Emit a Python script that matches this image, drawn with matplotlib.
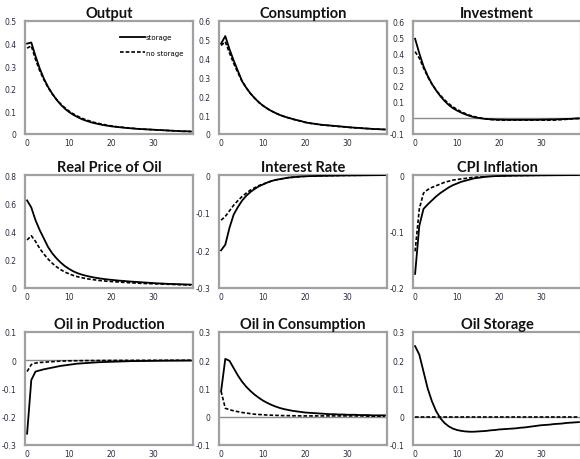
import matplotlib
matplotlib.use('Agg')
import matplotlib.pyplot as plt
from matplotlib.ticker import FuncFormatter, MultipleLocator

# Impulse responses, quarters 0..39
periods = list(range(40))

output_s = [0.400, 0.405, 0.345, 0.290, 0.245, 0.208, 0.178, 0.152, 0.130, 0.112,
            0.097, 0.085, 0.075, 0.066, 0.059, 0.053, 0.048, 0.044, 0.040, 0.037,
            0.034, 0.032, 0.030, 0.028, 0.026, 0.025, 0.023, 0.022, 0.021, 0.020,
            0.019, 0.018, 0.017, 0.016, 0.015, 0.014, 0.013, 0.012, 0.012, 0.011]
output_n = [0.380, 0.390, 0.330, 0.280, 0.240, 0.205, 0.177, 0.153, 0.133, 0.116,
            0.101, 0.089, 0.079, 0.070, 0.063, 0.057, 0.051, 0.047, 0.043, 0.039,
            0.036, 0.033, 0.031, 0.029, 0.027, 0.025, 0.024, 0.022, 0.021, 0.020,
            0.019, 0.018, 0.017, 0.016, 0.015, 0.014, 0.013, 0.012, 0.012, 0.011]

cons_s = [0.480, 0.520, 0.450, 0.390, 0.335, 0.280, 0.245, 0.215, 0.190, 0.168,
          0.150, 0.135, 0.122, 0.111, 0.101, 0.093, 0.086, 0.080, 0.074, 0.069,
          0.062, 0.058, 0.055, 0.052, 0.049, 0.047, 0.045, 0.043, 0.041, 0.039,
          0.037, 0.035, 0.033, 0.032, 0.030, 0.029, 0.027, 0.026, 0.025, 0.024]
cons_n = [0.470, 0.490, 0.430, 0.375, 0.325, 0.280, 0.245, 0.215, 0.190, 0.168,
          0.150, 0.135, 0.122, 0.111, 0.101, 0.093, 0.086, 0.079, 0.073, 0.068,
          0.062, 0.058, 0.054, 0.051, 0.048, 0.046, 0.044, 0.042, 0.040, 0.038,
          0.036, 0.034, 0.033, 0.031, 0.030, 0.028, 0.027, 0.026, 0.025, 0.024]

inv_s = [0.490, 0.400, 0.320, 0.260, 0.210, 0.170, 0.135, 0.105, 0.080, 0.060,
         0.045, 0.032, 0.021, 0.012, 0.005, 0.000, -0.004, -0.007, -0.009, -0.010,
         -0.011, -0.011, -0.012, -0.012, -0.012, -0.012, -0.012, -0.012, -0.012, -0.012,
         -0.011, -0.011, -0.010, -0.010, -0.009, -0.008, -0.007, -0.006, -0.004, -0.003]
inv_n = [0.410, 0.370, 0.310, 0.255, 0.210, 0.172, 0.140, 0.112, 0.088, 0.068,
         0.052, 0.038, 0.026, 0.016, 0.008, 0.002, -0.003, -0.007, -0.010, -0.012,
         -0.013, -0.014, -0.014, -0.014, -0.014, -0.014, -0.014, -0.014, -0.014, -0.014,
         -0.014, -0.014, -0.014, -0.014, -0.012, -0.011, -0.009, -0.007, -0.005, -0.004]

oil_price_s = [0.620, 0.570, 0.480, 0.410, 0.350, 0.290, 0.245, 0.210, 0.180, 0.155,
               0.135, 0.118, 0.105, 0.095, 0.087, 0.080, 0.074, 0.069, 0.065, 0.061,
               0.058, 0.055, 0.052, 0.050, 0.047, 0.045, 0.043, 0.041, 0.039, 0.037,
               0.035, 0.033, 0.032, 0.030, 0.029, 0.028, 0.027, 0.026, 0.025, 0.024]
oil_price_n = [0.340, 0.370, 0.330, 0.280, 0.240, 0.205, 0.175, 0.150, 0.130, 0.113,
               0.100, 0.089, 0.080, 0.073, 0.067, 0.062, 0.058, 0.054, 0.051, 0.048,
               0.046, 0.044, 0.042, 0.040, 0.038, 0.036, 0.035, 0.033, 0.032, 0.031,
               0.030, 0.029, 0.028, 0.027, 0.026, 0.025, 0.024, 0.023, 0.022, 0.021]

rate_s = [-0.200, -0.185, -0.140, -0.105, -0.085, -0.068, -0.055, -0.045, -0.037, -0.030,
          -0.025, -0.020, -0.016, -0.013, -0.011, -0.009, -0.007, -0.006, -0.005, -0.004,
          -0.0035, -0.003, -0.0028, -0.0025, -0.0022, -0.002, -0.0018, -0.0016, -0.0014, -0.0012,
          -0.001, -0.001, -0.0009, -0.0008, -0.0007, -0.0006, -0.0005, -0.0004, -0.0003, -0.0002]
rate_n = [-0.120, -0.110, -0.095, -0.080, -0.068, -0.057, -0.048, -0.040, -0.034, -0.028,
          -0.024, -0.020, -0.016, -0.013, -0.011, -0.009, -0.007, -0.006, -0.005, -0.004,
          -0.0035, -0.003, -0.0028, -0.0025, -0.0022, -0.002, -0.0018, -0.0016, -0.0014, -0.0012,
          -0.001, -0.001, -0.0009, -0.0008, -0.0007, -0.0006, -0.0005, -0.0004, -0.0003, -0.0002]

cpi_s = [-0.175, -0.090, -0.060, -0.052, -0.045, -0.038, -0.032, -0.027, -0.022, -0.018,
         -0.015, -0.012, -0.010, -0.008, -0.006, -0.005, -0.004, -0.003, -0.0025, -0.002,
         -0.0018, -0.0016, -0.0014, -0.0012, -0.001, -0.001, -0.0009, -0.0008, -0.0007, -0.0006,
         -0.0005, -0.0005, -0.0004, -0.0004, -0.0003, -0.0003, -0.0002, -0.0002, -0.0001, -0.0001]
cpi_n = [-0.135, -0.060, -0.032, -0.026, -0.022, -0.019, -0.016, -0.013, -0.011, -0.009,
         -0.008, -0.007, -0.006, -0.005, -0.004, -0.0035, -0.003, -0.0025, -0.002, -0.0018,
         -0.0016, -0.0014, -0.0012, -0.001, -0.001, -0.0009, -0.0008, -0.0007, -0.0006, -0.0005,
         -0.0005, -0.0004, -0.0004, -0.0003, -0.0003, -0.0002, -0.0002, -0.0001, -0.0001, -0.0001]

oil_prod_s = [-0.260, -0.070, -0.040, -0.036, -0.032, -0.029, -0.026, -0.023, -0.020, -0.018,
              -0.016, -0.014, -0.012, -0.011, -0.010, -0.009, -0.008, -0.007, -0.0065, -0.006,
              -0.0055, -0.005, -0.0045, -0.004, -0.0035, -0.003, -0.003, -0.0028, -0.0026, -0.0024,
              -0.0022, -0.002, -0.0018, -0.0016, -0.0015, -0.0014, -0.0013, -0.0012, -0.0011, -0.001]
oil_prod_n = [-0.040, -0.015, -0.010, -0.008, -0.007, -0.006, -0.005, -0.004, -0.003, -0.0025,
              -0.002, -0.0018, -0.0016, -0.0014, -0.0012, -0.001, -0.001, -0.0009, -0.0008, -0.0007,
              -0.0006, -0.0006, -0.0005, -0.0005, -0.0004, -0.0004, -0.0003, -0.0003, -0.0003, -0.0002,
              -0.0002, -0.0002, -0.0002, -0.0001, -0.0001, -0.0001, -0.0001, -0.0001, -0.0001, -0.0001]

oil_cons_s = [0.090, 0.205, 0.198, 0.172, 0.146, 0.124, 0.106, 0.091, 0.078, 0.067,
              0.057, 0.049, 0.042, 0.036, 0.031, 0.027, 0.024, 0.021, 0.019, 0.017,
              0.015, 0.014, 0.013, 0.012, 0.011, 0.010, 0.009, 0.009, 0.008, 0.008,
              0.007, 0.007, 0.007, 0.006, 0.006, 0.006, 0.005, 0.005, 0.005, 0.005]
oil_cons_n = [0.090, 0.030, 0.025, 0.021, 0.018, 0.015, 0.013, 0.011, 0.009, 0.008,
              0.007, 0.006, 0.0055, 0.005, 0.0045, 0.004, 0.004, 0.0035, 0.0035, 0.003,
              0.003, 0.003, 0.003, 0.003, 0.003, 0.003, 0.003, 0.003, 0.003, 0.003,
              0.003, 0.003, 0.003, 0.003, 0.003, 0.002, 0.002, 0.002, 0.002, 0.002]

storage_s = [0.250, 0.220, 0.160, 0.100, 0.055, 0.020, -0.005, -0.022, -0.034, -0.042,
             -0.047, -0.050, -0.052, -0.053, -0.053, -0.052, -0.051, -0.050, -0.048, -0.047,
             -0.045, -0.044, -0.043, -0.042, -0.041, -0.039, -0.038, -0.036, -0.034, -0.032,
             -0.030, -0.029, -0.028, -0.026, -0.025, -0.024, -0.022, -0.021, -0.020, -0.019]
storage_n = [0.0, 0.0, 0.0, 0.0, 0.0, 0.0, 0.0, 0.0, 0.0, 0.0,
             0.0, 0.0, 0.0, 0.0, 0.0, 0.0, 0.0, 0.0, 0.0, 0.0,
             0.0, 0.0, 0.0, 0.0, 0.0, 0.0, 0.0, 0.0, 0.0, 0.0,
             0.0, 0.0, 0.0, 0.0, 0.0, 0.0, 0.0, 0.0, 0.0, 0.0]

panels = [
    ('Output', output_s, output_n, (0, 0.5), 0.1, False),
    ('Consumption', cons_s, cons_n, (0, 0.6), 0.1, False),
    ('Investment', inv_s, inv_n, (-0.1, 0.6), 0.1, True),
    ('Real Price of Oil', oil_price_s, oil_price_n, (0, 0.8), 0.2, False),
    ('Interest Rate', rate_s, rate_n, (-0.3, 0), 0.1, False),
    ('CPI Inflation', cpi_s, cpi_n, (-0.2, 0), 0.1, False),
    ('Oil in Production', oil_prod_s, oil_prod_n, (-0.3, 0.1), 0.1, True),
    ('Oil in Consumption', oil_cons_s, oil_cons_n, (-0.1, 0.3), 0.1, True),
    ('Oil Storage', storage_s, storage_n, (-0.1, 0.3), 0.1, True),
]

W, H = 580, 460
col_left = [25, 219, 413]
row_top = [22, 176, 333]
ax_w, ax_h = 168, 113

fig = plt.figure(figsize=(W / 100, H / 100), dpi=100)
fmt = FuncFormatter(lambda v, pos: f'{v:g}' if abs(v) > 1e-9 else '0')

for i, (title, s, n, ylim, step, zero_line) in enumerate(panels):
    r, c = divmod(i, 3)
    rect = [col_left[c] / W, 1 - (row_top[r] + ax_h) / H, ax_w / W, ax_h / H]
    ax = fig.add_axes(rect)
    if zero_line:
        ax.axhline(0, color='#8c8c8c', lw=1.0, zorder=1)
    ax.plot(periods, s, color='black', lw=1.3, label='storage', zorder=3)
    ax.plot(periods, n, color='black', lw=1.2, ls=(0, (2.2, 1.2)), label='no storage', zorder=2)
    ax.set_xlim(-0.5, 39.5)
    ax.set_ylim(*ylim)
    ax.xaxis.set_major_locator(MultipleLocator(10))
    ax.yaxis.set_major_locator(MultipleLocator(step))
    ax.yaxis.set_major_formatter(fmt)
    ax.tick_params(length=0, labelsize=5.5, labelcolor='#2b2b40')
    ax.tick_params(axis='y', pad=6)
    ax.tick_params(axis='x', pad=3)
    for sp in ax.spines.values():
        sp.set_color('#a0a0a0')
        sp.set_linewidth(1.6)
    ax.set_title(title, fontsize=10.5, fontweight='bold', family='Lato',
                 color='#111111', pad=3)
    if i == 0:
        ax.legend(loc='upper right', bbox_to_anchor=(0.98, 0.94), frameon=False,
                  fontsize=5, handlelength=3.5, handletextpad=0.2, labelspacing=1.4)

fig.savefig('out.png', dpi=100)
